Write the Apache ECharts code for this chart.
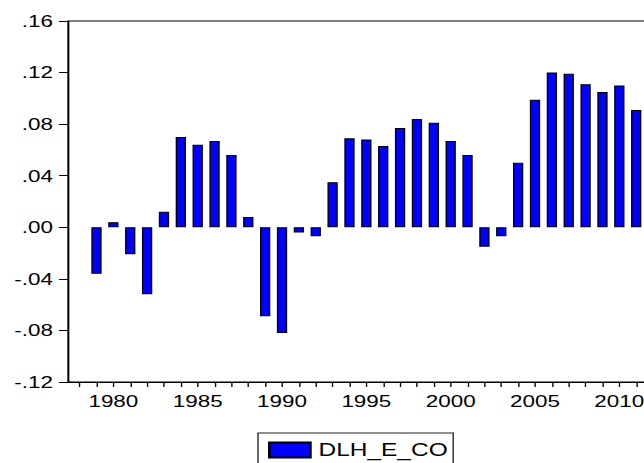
<!DOCTYPE html>
<html>
<head>
<meta charset="utf-8">
<script src="https://cdn.jsdelivr.net/npm/echarts@6/dist/echarts.min.js"></script>
<style>
html,body{margin:0;padding:0;background:#fff;overflow:hidden;}
#wrap{width:644px;height:463px;overflow:hidden;position:relative;}
#c{width:474px;height:463px;transform:scaleX(1.36);transform-origin:0 0;position:absolute;left:0;top:0;}
</style>
</head>
<body>
<div id="wrap"><div id="c"></div></div>
<script>
const years = [1979,1980,1981,1982,1983,1984,1985,1986,1987,1988,1989,1990,1991,1992,1993,1994,1995,1996,1997,1998,1999,2000,2001,2002,2003,2004,2005,2006,2007,2008,2009,2010,2011];
const values = [-0.036,0.004,-0.021,-0.052,0.012,0.070,0.064,0.067,0.056,0.008,-0.069,-0.082,-0.004,-0.007,0.035,0.069,0.068,0.063,0.077,0.084,0.081,0.067,0.056,-0.015,-0.007,0.050,0.099,0.120,0.119,0.111,0.105,0.110,0.091];
const seriesName = 'DLH_E_CO';
const xTickYears = [1978,1979,1980,1981,1982,1983,1984,1985,1986,1987,1988,1989,1990,1991,1992,1993,1994,1995,1996,1997,1998,1999,2000,2001,2002,2003,2004,2005,2006,2007,2008,2009,2010,2011,2012];
const xLabelYears = [1980,1985,1990,1995,2000,2005,2010];
const yMin = -0.12, yMax = 0.16, yStep = 0.04;
const xMin = 1977.31, xMax = 2012.69;

const S = 1.36;           // horizontal stretch of the whole picture
const FONT = 'Liberation Sans, Arial, Helvetica, sans-serif';
const chart = echarts.init(document.getElementById('c'), null, {renderer:'svg'});
chart.setOption({
  animation:false,
  backgroundColor:'#fff',
  grid:{left:68/S, top:21, width:596.7/S, height:361, show:true, borderColor:'#000', borderWidth:1,
        backgroundColor:'transparent', outerBoundsMode:'none', containLabel:false},
  xAxis:{
    type:'value', min:xMin, max:xMax,
    splitLine:{show:false},
    axisLine:{show:true, onZero:false, lineStyle:{color:'#000', width:1}},
    axisTick:{show:true, length:5, customValues:xTickYears, lineStyle:{color:'#000', width:1}},
    axisLabel:{
      color:'#000', fontFamily:FONT, fontSize:16.5, margin:11,
      customValues:xLabelYears,
      formatter:function(v){ return String(Math.round(v)); }
    }
  },
  yAxis:{
    type:'value', min:yMin, max:yMax, interval:yStep,
    splitLine:{show:false},
    axisLine:{show:true, onZero:false, lineStyle:{color:'#000', width:1}},
    axisTick:{show:true, length:9/S, lineStyle:{color:'#000', width:1}},
    axisLabel:{
      color:'#000', fontFamily:FONT, fontSize:16.5, margin:15/S,
      formatter:function(v){ return v.toFixed(2).replace('0.', '.'); }
    }
  },
  legend:{
    show:true, left:258/S, top:433, orient:'horizontal',
    padding:[8,4,10,10/S],
    borderColor:'#222', borderWidth:1,
    itemWidth:41/S, itemHeight:15, icon:'rect',
    textStyle:{color:'#000', fontFamily:FONT, fontSize:18, padding:[0,0,0,1]},
    data:[seriesName]
  },
  series:[{
    name:seriesName, type:'bar', barWidth:10.3/S,
    itemStyle:{color:'#0000FF', borderColor:'#000', borderWidth:1},
    data: years.map((y,i)=>[y, values[i]])
  }]
});
</script>
</body>
</html>
